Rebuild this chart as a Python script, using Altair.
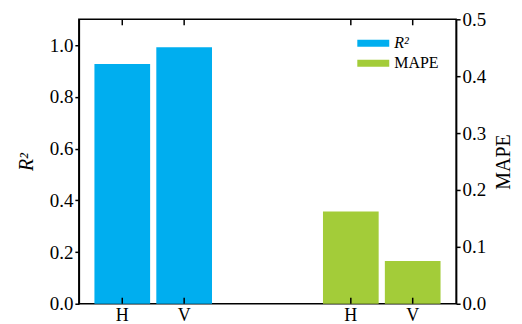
import altair as alt
import pandas as pd

categories = ["H", "V"]
groups = ["R²", "MAPE"]
r2_values = [0.927, 0.992]
mape_values = [0.162, 0.075]
left_ticks = [0.0, 0.2, 0.4, 0.6, 0.8, 1.0]
right_ticks = [0.0, 0.1, 0.2, 0.3, 0.4, 0.5]

BLUE = "#00aeef"
GREEN = "#a3cc39"
FONT = "Liberation Serif"
W, H = 378, 285

r2_df = pd.DataFrame({"group": groups[0], "cat": categories, "value": r2_values})
mape_df = pd.DataFrame({"group": groups[1], "cat": categories, "value": mape_values})
all_df = pd.concat([r2_df, mape_df], ignore_index=True)

x_enc = alt.X("group:N", sort=groups,
              scale=alt.Scale(domain=groups, paddingInner=0.4585, paddingOuter=0.0546),
              axis=None)
xo_enc = alt.XOffset("cat:N", sort=categories,
                     scale=alt.Scale(domain=categories, paddingInner=0.1, paddingOuter=0.05))
color_enc = alt.Color(
    "group:N",
    scale=alt.Scale(domain=groups, range=[BLUE, GREEN]),
    legend=alt.Legend(
        title=None, orient="none", legendX=287, legendY=16,
        symbolType="M-2,-0.44H2V0.44H-2Z", symbolSize=256, symbolStrokeWidth=0,
        labelFont=FONT, labelFontSize=16, labelColor="black", labelOffset=13,
        rowPadding=4,
        labelFontStyle={"expr": "datum.label == 'R²' ? 'italic' : 'normal'"},
    ),
)

axis_common = dict(
    labelFont=FONT, labelFontSize=19, labelColor="black", labelPadding=2,
    tickColor="black", tickSize=4, tickWidth=1.5,
    domainColor="black", domainWidth=1.5, grid=False,
    titleFont=FONT, titleFontSize=20, titleFontWeight="normal", titleColor="black",
    titleAngle=270, format=".1f",
)

bars_r2 = alt.Chart(r2_df).mark_bar().encode(
    x=x_enc, xOffset=xo_enc,
    y=alt.Y("value:Q", scale=alt.Scale(domain=[0, 1.1], nice=False),
            axis=alt.Axis(title="R²", orient="left", values=left_ticks,
                          titleFontStyle="italic", titlePadding=13, **axis_common)),
    color=color_enc,
)

bars_mape = alt.Chart(mape_df).mark_bar().encode(
    x=x_enc, xOffset=xo_enc,
    y=alt.Y("value:Q", scale=alt.Scale(domain=[0, 0.5], nice=False),
            axis=alt.Axis(title="MAPE", orient="right", values=right_ticks,
                          titlePadding=8, titleBaseline="top", **axis_common)),
    color=color_enc,
)

top_ticks = alt.Chart(all_df).mark_rule(color="black", strokeWidth=1.5).encode(
    x=x_enc, xOffset=xo_enc, y=alt.value(0), y2=alt.value(6))
bottom_ticks = alt.Chart(all_df).mark_rule(color="black", strokeWidth=1.5).encode(
    x=x_enc, xOffset=xo_enc, y=alt.value(H), y2=alt.value(H - 6))
labels = alt.Chart(all_df).mark_text(
    baseline="bottom", font=FONT, fontSize=18, color="black").encode(
    x=x_enc, xOffset=xo_enc, y=alt.value(H + 21), text="cat:N")

chart = alt.layer(bars_r2, bars_mape, top_ticks, bottom_ticks, labels).resolve_scale(
    y="independent"
).properties(
    width=W, height=H,
    padding={"left": 8, "top": 2, "right": 0, "bottom": 0},
    background="white",
).configure_view(stroke="black", strokeWidth=1.5)

chart.save("out.html", embed_options={"renderer": "svg", "actions": False})
